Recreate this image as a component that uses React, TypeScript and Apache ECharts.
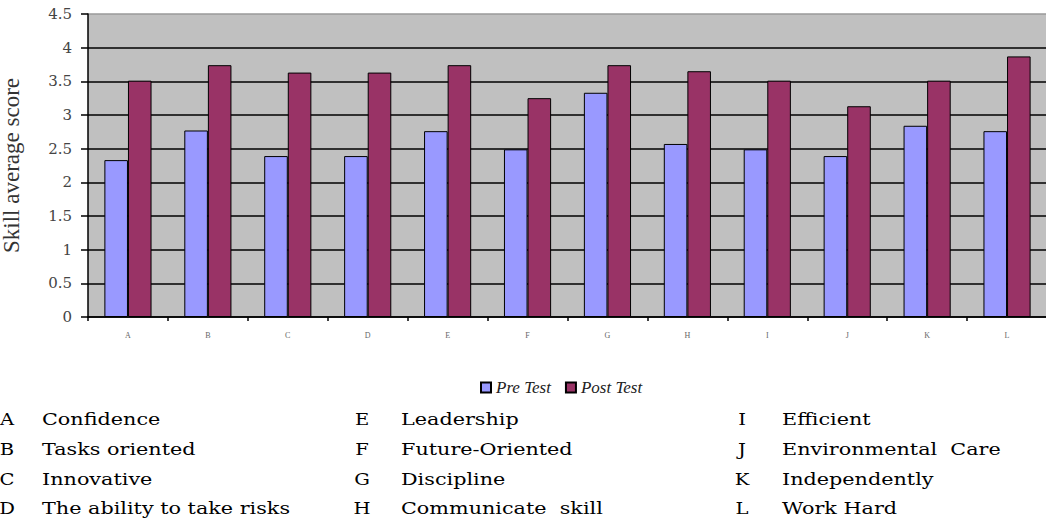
import React, { useEffect, useRef } from "react";
import * as echarts from "echarts";

const categories = ["A", "B", "C", "D", "E", "F", "G", "H", "I", "J", "K", "L"];
const preTest = [2.33, 2.77, 2.39, 2.39, 2.76, 2.49, 3.33, 2.57, 2.49, 2.39, 2.84, 2.76];
const postTest = [3.51, 3.74, 3.63, 3.63, 3.74, 3.25, 3.74, 3.65, 3.51, 3.13, 3.51, 3.87];
const seriesNames = ["Pre Test", "Post Test"];
const yTicks = ["0", "0.5", "1", "1.5", "2", "2.5", "3", "3.5", "4", "4.5"];
const skillNames = [
  "Confidence",
  "Tasks oriented",
  "Innovative",
  "The ability to take risks",
  "Leadership",
  "Future-Oriented",
  "Discipline",
  "Communicate  skill",
  "Efficient",
  "Environmental  Care",
  "Independently",
  "Work Hard",
];

const SERIF = "DejaVu Serif";
const LSERIF = "Liberation Serif";

export default function App() {
  const ref = useRef<HTMLDivElement>(null);
  useEffect(() => {
    if (!ref.current) return;
    const chart = echarts.init(ref.current, null, { renderer: "svg" });

    const colLetterX = [7, 362, 742];
    const colNameX = [42, 401, 782];
    const rowY = [419, 449, 479, 508];
    const tableTexts: any[] = [];
    categories.forEach((c, i) => {
      const col = Math.floor(i / 4);
      const row = i % 4;
      tableTexts.push({
        type: "text",
        x: colLetterX[col],
        y: rowY[row],
        scaleX: 1.15,
        style: {
          text: c,
          fill: "#000",
          fontFamily: SERIF,
          fontSize: 17,
          textAlign: "center",
          textVerticalAlign: "middle",
        },
      });
      tableTexts.push({
        type: "text",
        x: colNameX[col],
        y: rowY[row],
        scaleX: 1.22,
        style: {
          text: skillNames[i],
          fill: "#000",
          fontFamily: SERIF,
          fontSize: 17,
          textAlign: "left",
          textVerticalAlign: "middle",
        },
      });
    });

    const splitColors = yTicks.map((t, i) => (i === yTicks.length - 1 ? "#9a9a9a" : "#000"));

    chart.setOption({
      animation: false,
      backgroundColor: "#fff",
      grid: {
        left: 88,
        right: -1,
        top: 14,
        bottom: 204,
        show: true,
        backgroundColor: "#C0C0C0",
        borderWidth: 0,
        containLabel: false,
        outerBoundsMode: "none",
      },
      legend: {
        data: seriesNames,
        left: 475,
        top: 374,
        itemWidth: 10,
        itemHeight: 10,
        itemGap: 14,
        icon: "rect",
        textStyle: {
          fontFamily: LSERIF,
          fontStyle: "italic",
          fontSize: 17,
          color: "#222",
        },
      },
      xAxis: {
        type: "category",
        data: categories,
        boundaryGap: true,
        axisLine: { show: true, lineStyle: { color: "#000", width: 1.5 } },
        axisTick: { show: true, length: 4, inside: false, lineStyle: { color: "#000", width: 1.5 } },
        axisLabel: {
          fontFamily: LSERIF,
          fontSize: 8,
          color: "#666",
          margin: 14,
        },
      },
      yAxis: {
        type: "value",
        min: 0,
        max: 4.5,
        interval: 0.5,
        name: "Skill average score",
        nameLocation: "middle",
        nameGap: 65,
        nameRotate: 90,
        nameTextStyle: {
          fontFamily: LSERIF,
          fontSize: 23,
          color: "#333",
        },
        axisLine: { show: true, lineStyle: { color: "#000", width: 1.5 } },
        axisTick: { show: true, length: 7, lineStyle: { color: "#000", width: 1.5 } },
        axisLabel: {
          fontFamily: SERIF,
          fontSize: 15,
          color: "#444",
          margin: 16,
          formatter: (v: number) => String(v),
        },
        splitLine: { show: true, lineStyle: { color: splitColors, width: 1.5 } },
      },
      series: [
        {
          name: seriesNames[0],
          type: "bar",
          data: preTest,
          barGap: "0%",
          barCategoryGap: "41%",
          itemStyle: { color: "#9999FF", borderColor: "#000", borderWidth: 1 },
        },
        {
          name: seriesNames[1],
          type: "bar",
          data: postTest,
          barGap: "0%",
          barCategoryGap: "41%",
          itemStyle: { color: "#993366", borderColor: "#000", borderWidth: 1 },
        },
      ],
      graphic: tableTexts,
    });
    return () => chart.dispose();
  }, []);
  return (
    <div
      ref={ref}
      style={{ position: "absolute", left: 0, top: 0, width: 1046, height: 521 }}
    />
  );
}
